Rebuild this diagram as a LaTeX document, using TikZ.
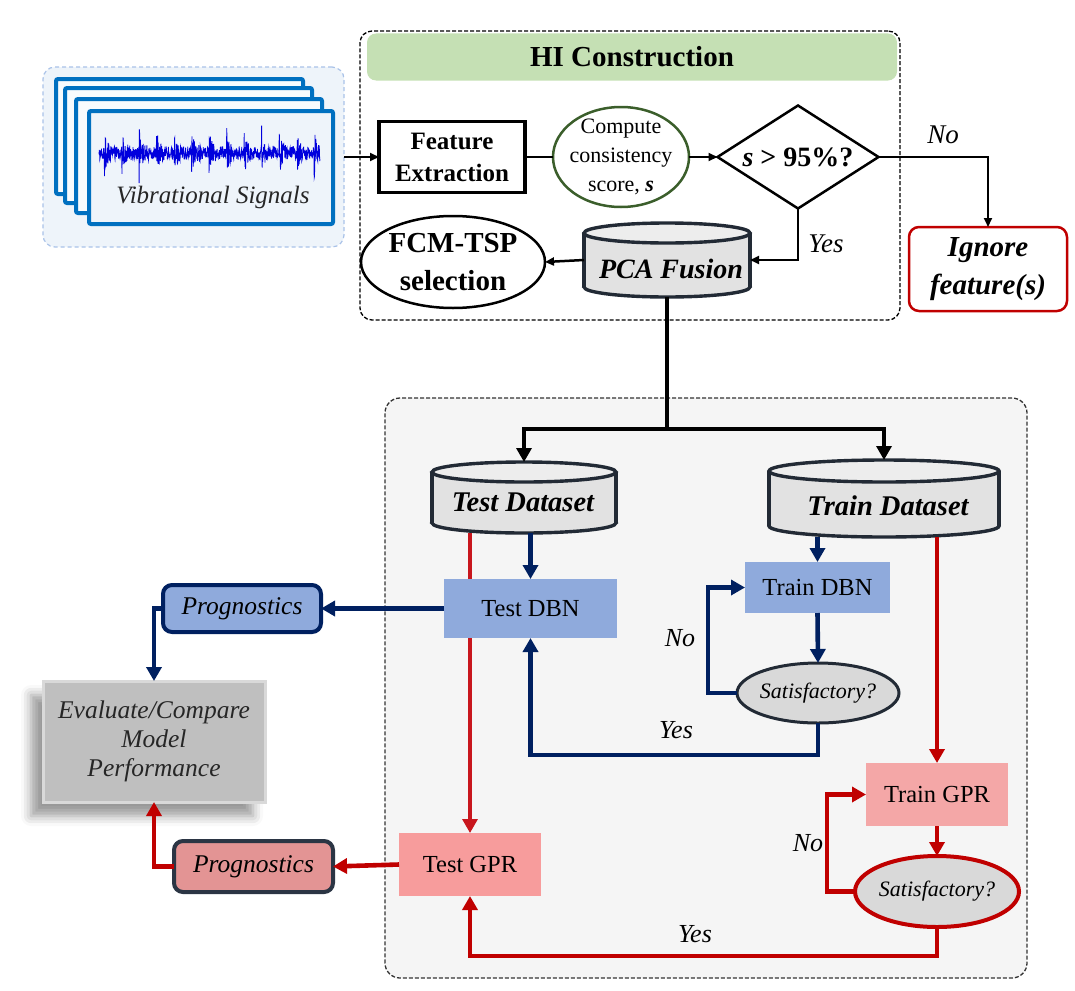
\documentclass[tikz,border=0pt]{standalone}
\usepackage{fontspec}
\setmainfont{Liberation Serif}
\usetikzlibrary{arrows.meta,shapes.geometric,shadows.blur,calc}
\definecolor{navyc}{HTML}{002060}
\definecolor{redc}{HTML}{C00000}
\definecolor{redthin}{HTML}{C8161D}
\definecolor{dbnfill}{HTML}{8FAADC}
\definecolor{gprfill}{HTML}{F4A7A7}
\definecolor{tgprfill}{HTML}{F79C9C}
\definecolor{cylline}{HTML}{222A35}
\definecolor{cylfill}{HTML}{E2E2E2}
\definecolor{cyltop}{HTML}{EDEDED}
\definecolor{headfill}{HTML}{C5E0B4}
\definecolor{sigfill}{HTML}{EEF4FA}
\definecolor{sigline}{HTML}{A9C2E8}
\definecolor{framec}{HTML}{0070C0}
\definecolor{wavec}{HTML}{0000DD}
\definecolor{ccline}{HTML}{3B5E2B}
\definecolor{lowfill}{HTML}{F5F5F5}
\definecolor{evalfill}{HTML}{BFBFBF}
\definecolor{evalline}{HTML}{D9D9D9}
\definecolor{progRfill}{HTML}{E39494}
\definecolor{progRline}{HTML}{2B3544}
\definecolor{satfill}{HTML}{D9D9D9}
\definecolor{txtgray}{HTML}{262626}
\newcommand\fsz[2]{\fontsize{#1pt}{#2pt}\selectfont}
\newcommand\cylshape[3]{%
  \draw[cylstroke, fill=cylfill] ([yshift=#3pt]#1.south) ellipse [x radius=#2pt, y radius=#3pt];
  \fill[cylfill] ([yshift=-#3pt]#1.north west) rectangle ([yshift=#3pt]#1.south east);
  \draw[cylstroke] ([yshift=-#3pt]#1.north west) -- ([yshift=#3pt]#1.south west)
                   ([yshift=-#3pt]#1.north east) -- ([yshift=#3pt]#1.south east);
  \draw[cylstroke, fill=cyltop] ([yshift=-#3pt]#1.north) ellipse [x radius=#2pt, y radius=#3pt];
}
\begin{document}
\begin{tikzpicture}[x=1pt,y=-1pt,
  every node/.style={outer sep=0pt},
  blkthin/.style={line width=2pt, draw=black},
  blkthick/.style={line width=3.3pt, draw=black},
  tipS/.style={-{Triangle[length=9pt,width=8pt]}},
  tipL/.style={-{Triangle[length=14pt,width=15pt]}},
  navyline/.style={line width=4.6pt, draw=navyc},
  redline/.style={line width=4.6pt, draw=redc},
  cylstroke/.style={line width=3.4pt, draw=cylline},
  cylnode/.style={rectangle, inner sep=0pt},
  framebox/.style={line width=4pt, draw=framec, fill=sigfill!40!white, rounded corners=2pt},
  lblTop/.style={font=\fsz{27}{30}\itshape},
  lblLow/.style={font=\fsz{26}{30}\itshape},
  dbnbox/.style={rectangle, fill=dbnfill, font=\fsz{24.5}{28}},
  gprbox/.style={rectangle, font=\fsz{24.5}{28}},
  dstext/.style={font=\fsz{28.5}{32}\bfseries\itshape},
  sattext/.style={ellipse, fill=satfill, font=\fsz{22}{24}\itshape, inner sep=-22pt},
]
\useasboundingbox (0,0) rectangle (1075,990);

% ---------- signal group ----------
\node[rectangle, rounded corners=12pt, dashed, dash pattern=on 4pt off 3pt, draw=sigline,
  line width=1.2pt, fill=sigfill, minimum width=301pt, minimum height=180pt] (sig) at (193.5,157) {};
\draw[framebox] (56,79) rectangle (303,194);
\draw[framebox] (65,88) rectangle (312,203);
\draw[framebox] (76,99) rectangle (322,213);
\draw[framebox, fill=sigfill] (89,111) rectangle (333,224);
\pgfmathsetseed{7}
\draw[wavec, line width=0.8pt] plot[domain=99:320, samples=800]
  (\x,{153+rand*(6+8*exp(-mod(\x+71,17.5)/5)+18*exp(-mod(\x+71,17.5)/1.2))});
\node[font=\fsz{25}{30}\itshape, text=txtgray] (sigT) at (213,197) {Vibrational Signals};

% ---------- HI construction ----------
\node[rectangle, rounded corners=12pt, dashed, dash pattern=on 4pt off 2pt, draw=black,
  line width=1.3pt, minimum width=540pt, minimum height=289pt] (hibox) at (630,175.5) {};
\node[rectangle, rounded corners=9pt, fill=headfill, minimum width=530pt, minimum height=47pt,
  font=\fsz{29}{34}\bfseries] (hihead) at (632,57) {HI Construction};

\node[rectangle, draw=black, line width=3.5pt, minimum width=146pt, minimum height=71pt,
  align=center, font=\fsz{25}{32}\bfseries] (fe) at (452,157) {Feature\\Extraction};
\node[ellipse, draw=ccline, line width=2.5pt, minimum width=136pt, minimum height=100pt,
  inner sep=-20pt, align=center, font=\fsz{22}{29}] (cc) at (621,157)
  {Compute\\consistency\\score, \textbf{\textit{s}}};
\node[diamond, draw=black, line width=2.5pt, minimum width=161pt, minimum height=103pt,
  inner sep=-30pt, font=\fsz{28}{32}\bfseries] (dia) at (798,157) {\textit{s} > 95\%?};
\node[rectangle, rounded corners=10pt, draw=redc, line width=2.5pt, minimum width=158pt,
  minimum height=84pt, align=center, font=\fsz{29}{38}\bfseries\itshape] (ign) at (988,269)
  {Ignore\\feature(s)};
\node[cylnode, minimum width=166pt, minimum height=74pt] (pca) at (667,260) {};
\cylshape{pca}{83}{10}
\node[font=\fsz{28}{32}\bfseries\itshape] (pcaT) at (671,269) {PCA Fusion};
\node[ellipse, draw=black, line width=2.5pt, minimum width=184pt, minimum height=92pt,
  inner sep=-20pt, align=center, font=\fsz{29}{38}\bfseries] (fcm) at (453,262) {FCM-TSP\\selection};

\draw[blkthin, tipS] (sig.east) -- (fe.west);
\draw[blkthin, line width=2.5pt] (fe.east) -- (cc.west);
\draw[blkthin, tipS] (cc.east) -- (dia.west);
\draw[blkthin, line width=1.8pt, tipS] (dia.east) -| (ign.north);
\node[lblTop] (noTop) at (943,135) {No};
\draw[blkthin, tipS] (dia.south) |- (pca.east);
\node[lblTop] (yesTop) at (826,244) {Yes};
\draw[blkthin, line width=2.5pt, tipS] (pca.west) -- (fcm.east);

% ---------- lower panel ----------
\node[rectangle, rounded corners=15pt, dashed, dash pattern=on 4pt off 2pt, draw=black!80,
  line width=1.3pt, fill=lowfill, minimum width=642pt, minimum height=580pt] (lowbox) at (706,688) {};

\node[gprbox, fill=tgprfill, minimum width=142pt, minimum height=63pt] (testgpr) at (470,864.5) {Test GPR};
\node[cylnode, minimum width=184pt, minimum height=71pt] (testds) at (524,497.5) {};
\draw[line width=3.2pt, draw=redthin, tipL] (testds.south -| testgpr.north) -- (testgpr.north);
\cylshape{testds}{92}{10}
\node[dstext] (testdsT) at (523,502) {Test Dataset};
\node[cylnode, minimum width=230pt, minimum height=77pt] (trainds) at (884,498.5) {};
\cylshape{trainds}{115}{11}
\node[dstext] (traindsT) at (888,506) {Train Dataset};

\node[dbnbox, minimum width=173pt, minimum height=59pt] (testdbn) at (530.5,608.5) {Test DBN};
\node[dbnbox, minimum width=145pt, minimum height=51pt] (traindbn) at (817.5,587.5) {Train DBN};
\node[sattext, draw=cylline, line width=3pt, minimum width=162pt, minimum height=60pt] (dbnsat) at (818,693) {Satisfactory?};
\node[gprbox, fill=gprfill, minimum width=142pt, minimum height=63pt] (traingpr) at (937,794.5) {Train GPR};
\node[sattext, draw=redc, line width=4pt, minimum width=164pt, minimum height=71pt] (gprsat) at (937,891.5) {Satisfactory?};

\coordinate (split) at (667,429);
\draw[blkthick] (pca.south) -- (split);
\draw[blkthick, tipL] (split) -| (testds.north);
\draw[blkthick, tipL] (split) -| (trainds.north);

\draw[navyline, tipL] (testds.south -| testdbn.north) -- (testdbn.north);
\draw[navyline, tipL] (trainds.south -| traindbn.north) -- (traindbn.north);
\draw[navyline, tipL] (traindbn.south) -- (dbnsat.north);
\draw[navyline, tipL] (dbnsat.west) -- ++(-29,0) |- (traindbn.west);
\node[lblLow] (noDBN) at (680,638) {No};
\draw[navyline, tipL] (dbnsat.south) -- ++(0,32) -| (testdbn.south);
\node[lblLow] (yesDBN) at (676,730) {Yes};

\draw[redline, tipL] (trainds.south -| traingpr.north) -- (traingpr.north);
\draw[redline, tipL] (traingpr.south) -- (gprsat.north);
\draw[redline, tipL] (gprsat.west) -- ++(-28,0) |- (traingpr.west);
\node[lblLow] (noGPR) at (808,843) {No};
\draw[redline, tipL] (gprsat.south) -- ++(0,29) -| (testgpr.south);
\node[lblLow] (yesGPR) at (695,934) {Yes};

% ---------- left outputs ----------
\node[rectangle, rounded corners=9pt, fill=dbnfill, draw=navyc, line width=4pt,
  minimum width=158pt, minimum height=47pt, font=\fsz{25.5}{30}\itshape] (progB) at (242,608.5) {Prognostics};
\node[rectangle, rounded corners=9pt, fill=progRfill, draw=progRline, line width=4pt,
  minimum width=159pt, minimum height=51pt, font=\fsz{25.5}{30}\itshape] (progR) at (253.5,866.5) {Prognostics};
\node[rectangle, fill=evalfill, draw=evalline, line width=3pt, minimum width=222pt, minimum height=121pt,
  blur shadow={shadow xshift=-12pt, shadow yshift=-14pt, shadow opacity=40, shadow blur radius=10pt},
  align=center, text=txtgray, font=\fsz{25.5}{29}\itshape] (eval) at (154,741.5)
  {Evaluate/Compare\\Model\\Performance};

\draw[navyline, tipL] (testdbn.west) -- (progB.east);
\draw[navyline, tipL] (progB.west) -| (eval.north);
\draw[redline, tipL] (testgpr.west) -- (progR.east);
\draw[redline, tipL] (progR.west) -| (eval.south);
\end{tikzpicture}
\end{document}
